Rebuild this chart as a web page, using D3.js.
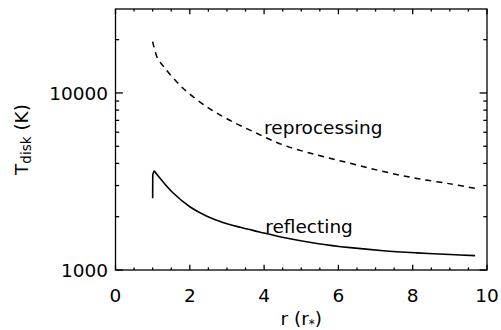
<!DOCTYPE html>
<html>
<head>
<meta charset="utf-8">
<script src="https://cdn.jsdelivr.net/npm/d3@7"></script>
<style>
  body { margin: 0; background: #fff; }
  svg text { font-family: "DejaVu Sans", sans-serif; font-weight: normal; fill: #000; }
</style>
</head>
<body>
<div id="chart"></div>
<script>
// ---- data ----
const reprocR = [1.0, 1.13, 1.31, 1.56, 1.92, 2.46, 3.0, 3.71, 4.52, 5.42, 6.32, 7.21, 8.11, 9.01, 9.68];
const reprocT = [19500, 15710, 13970, 12100, 10170, 8350, 7150, 6040, 5080, 4465, 4005, 3600, 3290, 3065, 2893];
const reflR = [1.0, 1.003, 1.04, 1.2, 1.56, 2.01, 2.46, 2.91, 3.36, 3.85, 4.52, 5.42, 6.32, 7.21, 8.11, 9.01, 9.68];
const reflT = [2540, 3450, 3640, 3297, 2712, 2270, 2014, 1851, 1742, 1645, 1525, 1413, 1337, 1285, 1250, 1223, 1205];
const xMajor = [0, 2, 4, 6, 8, 10];
const xMinor = [0.5, 1, 1.5, 2.5, 3, 3.5, 4.5, 5, 5.5, 6.5, 7, 7.5, 8.5, 9, 9.5];
const yMajor = [1000, 10000];
const yMinor = [2000, 3000, 4000, 5000, 6000, 7000, 8000, 9000, 20000];
const labels = ["reprocessing", "reflecting"];
const labelR = [4.0, 4.03];
const labelT = [5860, 1624];

// ---- layout ----
const W = 501, H = 330;
const L = 115.5, R = 487, T = 9, B = 270;
const FS = 18.5;

const svg = d3.select("#chart").append("svg").attr("width", W).attr("height", H);

const x = d3.scaleLinear().domain([0, 10]).range([L, R]);
const y = d3.scaleLog().domain([1000, 29800]).range([B, T]);

const gAx = svg.append("g").attr("stroke", "#000").attr("stroke-width", 1.3).attr("fill", "none");

// frame
gAx.append("rect").attr("x", L).attr("y", T).attr("width", R - L).attr("height", B - T);

// ticks on all four sides
const xMajLen = 5.2, xMinLen = 2.6, yMajLen = 7.4, yMinLen = 3.7;
xMajor.forEach(v => {
  gAx.append("line").attr("x1", x(v)).attr("x2", x(v)).attr("y1", B).attr("y2", B - xMajLen);
  gAx.append("line").attr("x1", x(v)).attr("x2", x(v)).attr("y1", T).attr("y2", T + xMajLen);
});
xMinor.forEach(v => {
  gAx.append("line").attr("x1", x(v)).attr("x2", x(v)).attr("y1", B).attr("y2", B - xMinLen);
  gAx.append("line").attr("x1", x(v)).attr("x2", x(v)).attr("y1", T).attr("y2", T + xMinLen);
});
yMajor.forEach(v => {
  gAx.append("line").attr("x1", L).attr("x2", L + yMajLen).attr("y1", y(v)).attr("y2", y(v));
  gAx.append("line").attr("x1", R).attr("x2", R - yMajLen).attr("y1", y(v)).attr("y2", y(v));
});
yMinor.forEach(v => {
  gAx.append("line").attr("x1", L).attr("x2", L + yMinLen).attr("y1", y(v)).attr("y2", y(v));
  gAx.append("line").attr("x1", R).attr("x2", R - yMinLen).attr("y1", y(v)).attr("y2", y(v));
});

// tick labels
svg.append("g").selectAll("text").data(xMajor).join("text")
  .attr("x", d => x(d)).attr("y", 302).attr("text-anchor", "middle")
  .attr("font-size", FS).text(d => d);
svg.append("g").selectAll("text").data(yMajor).join("text")
  .attr("x", 108).attr("y", d => y(d) + 7).attr("text-anchor", "end")
  .attr("font-size", FS).text(d => d);

// axis titles
const xt = svg.append("text").attr("x", (L + R) / 2).attr("y", 325).attr("text-anchor", "middle").attr("font-size", FS);
xt.append("tspan").text("r (r");
xt.append("tspan").attr("font-size", 12).attr("dy", 3).text("*");
xt.append("tspan").attr("dy", -3).text(")");

const yt = svg.append("text").attr("transform", `translate(28,${(T + B) / 2}) rotate(-90)`)
  .attr("text-anchor", "middle").attr("font-size", FS);
yt.append("tspan").text("T");
yt.append("tspan").attr("font-size", 13.5).attr("dy", 3).text("disk");
yt.append("tspan").attr("dy", -3).text("\u00a0(K)");

// curves
const lineSmooth = d3.line().x(d => x(d[0])).y(d => y(d[1])).curve(d3.curveCatmullRom.alpha(0.5));
const lineLin = d3.line().x(d => x(d[0])).y(d => y(d[1]));
const reproc = reprocR.map((r, i) => [r, reprocT[i]]);
const refl = reflR.map((r, i) => [r, reflT[i]]);

svg.append("path").attr("d", lineSmooth(reproc)).attr("fill", "none").attr("stroke", "#000")
  .attr("stroke-width", 1.5).attr("stroke-dasharray", "6,5");
// reflecting: sharp rise at the inner edge, then smooth decay
svg.append("path").attr("d", lineLin(refl.slice(0, 3))).attr("fill", "none").attr("stroke", "#000")
  .attr("stroke-width", 1.6).attr("stroke-linejoin", "round");
svg.append("path").attr("d", lineSmooth(refl.slice(2))).attr("fill", "none").attr("stroke", "#000")
  .attr("stroke-width", 1.6);

// curve labels
svg.append("g").selectAll("text").data(labels).join("text")
  .attr("x", (d, i) => x(labelR[i])).attr("y", (d, i) => y(labelT[i]))
  .attr("font-size", FS).text(d => d);
</script>
</body>
</html>
